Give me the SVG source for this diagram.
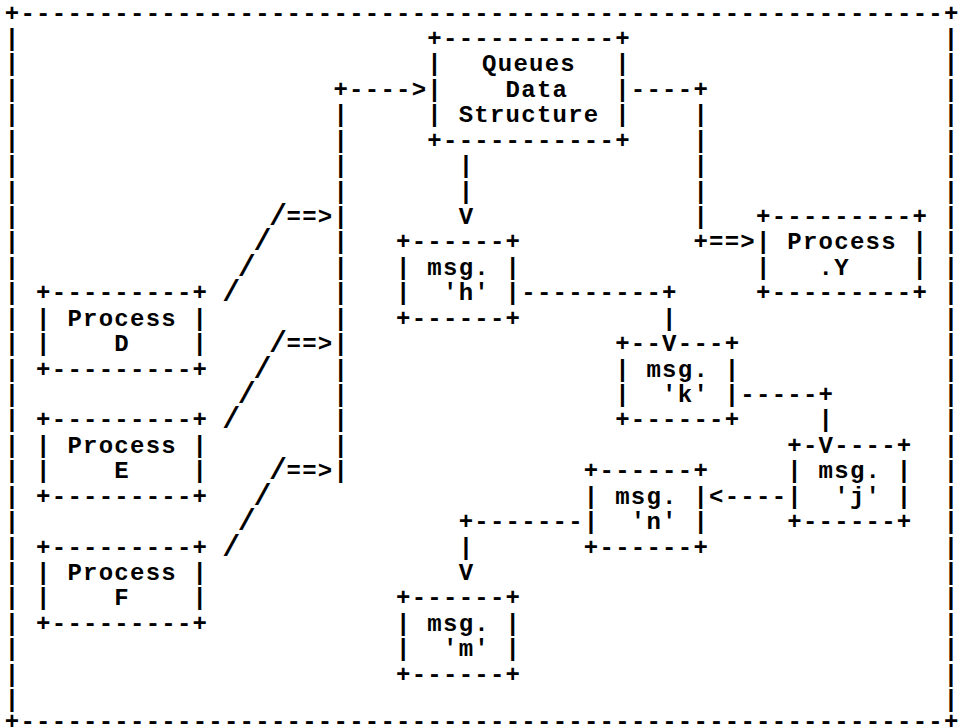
<svg xmlns="http://www.w3.org/2000/svg" width="958" height="728" viewBox="0 0 958 728" xml:space="preserve">
<style>
text { font-family: "Liberation Mono", "DejaVu Sans Mono", monospace; font-size: 24px; font-weight: bold; letter-spacing: 1.25px; fill: #000; white-space: pre; }
text.sl { font-size: 30px; letter-spacing: 0; }
</style>
<rect x="0" y="0" width="958" height="728" fill="#fff"/>
<g id="frame">
<text x="4.8" y="20.5">+-----------------------------------------------------------+</text>
<text x="4.8" y="729">+-----------------------------------------------------------+</text>
<text><tspan x="4.8" y="45.93">|</tspan><tspan x="4.8" y="71.36">|</tspan><tspan x="4.8" y="96.79">|</tspan><tspan x="4.8" y="122.22">|</tspan><tspan x="4.8" y="147.65">|</tspan><tspan x="4.8" y="173.08">|</tspan><tspan x="4.8" y="198.51">|</tspan><tspan x="4.8" y="223.94">|</tspan><tspan x="4.8" y="249.37">|</tspan><tspan x="4.8" y="274.8">|</tspan><tspan x="4.8" y="300.23">|</tspan><tspan x="4.8" y="325.66">|</tspan><tspan x="4.8" y="351.09">|</tspan><tspan x="4.8" y="376.52">|</tspan><tspan x="4.8" y="401.95">|</tspan><tspan x="4.8" y="427.38">|</tspan><tspan x="4.8" y="452.81">|</tspan><tspan x="4.8" y="478.24">|</tspan><tspan x="4.8" y="503.67">|</tspan><tspan x="4.8" y="529.1">|</tspan><tspan x="4.8" y="554.53">|</tspan><tspan x="4.8" y="579.96">|</tspan><tspan x="4.8" y="605.39">|</tspan><tspan x="4.8" y="630.82">|</tspan><tspan x="4.8" y="656.25">|</tspan><tspan x="4.8" y="681.68">|</tspan><tspan x="4.8" y="707.11">|</tspan></text>
<text><tspan x="943.8" y="45.93">|</tspan><tspan x="943.8" y="71.36">|</tspan><tspan x="943.8" y="96.79">|</tspan><tspan x="943.8" y="122.22">|</tspan><tspan x="943.8" y="147.65">|</tspan><tspan x="943.8" y="173.08">|</tspan><tspan x="943.8" y="198.51">|</tspan><tspan x="943.8" y="223.94">|</tspan><tspan x="943.8" y="249.37">|</tspan><tspan x="943.8" y="274.8">|</tspan><tspan x="943.8" y="300.23">|</tspan><tspan x="943.8" y="325.66">|</tspan><tspan x="943.8" y="351.09">|</tspan><tspan x="943.8" y="376.52">|</tspan><tspan x="943.8" y="401.95">|</tspan><tspan x="943.8" y="427.38">|</tspan><tspan x="943.8" y="452.81">|</tspan><tspan x="943.8" y="478.24">|</tspan><tspan x="943.8" y="503.67">|</tspan><tspan x="943.8" y="529.1">|</tspan><tspan x="943.8" y="554.53">|</tspan><tspan x="943.8" y="579.96">|</tspan><tspan x="943.8" y="605.39">|</tspan><tspan x="943.8" y="630.82">|</tspan><tspan x="943.8" y="656.25">|</tspan><tspan x="943.8" y="681.68">|</tspan><tspan x="943.8" y="707.11">|</tspan></text>
</g>
<g id="queues">
<text x="427.35" y="45.93">+-----------+</text>
<text x="427.35" y="71.36">|</text><text x="482.1" y="71.36">Queues</text><text x="615.15" y="71.36">|</text>
<text x="427.35" y="96.79">|    Data   |</text>
<text x="427.35" y="122.22">| Structure |</text>
<text x="427.35" y="147.65">+-----------+</text>
</g>
<g id="process-d">
<text x="36.1" y="300.23">+---------+</text>
<text x="36.1" y="325.66">| Process |</text>
<text x="36.1" y="351.09">|    D    |</text>
<text x="36.1" y="376.52">+---------+</text>
</g>
<g id="process-e">
<text x="36.1" y="427.38">+---------+</text>
<text x="36.1" y="452.81">| Process |</text>
<text x="36.1" y="478.24">|    E    |</text>
<text x="36.1" y="503.67">+---------+</text>
</g>
<g id="process-f">
<text x="36.1" y="554.53">+---------+</text>
<text x="36.1" y="579.96">| Process |</text>
<text x="36.1" y="605.39">|    F    |</text>
<text x="36.1" y="630.82">+---------+</text>
</g>
<g id="process-y">
<text x="756" y="223.94">+---------+</text>
<text x="756" y="249.37">| Process |</text>
<text x="756" y="274.8">|   .Y    |</text>
<text x="756" y="300.23">+---------+</text>
</g>
<g id="msg-h">
<text x="396.05" y="249.37">+------+</text>
<text x="396.05" y="274.8">| msg. |</text>
<text x="396.05" y="300.23">|  'h' |</text>
<text x="396.05" y="325.66">+------+</text>
</g>
<g id="msg-k">
<text x="615.15" y="351.09">+--</text><text x="677.75" y="351.09">---+</text>
<text x="615.15" y="376.52">| msg. |</text>
<text x="615.15" y="401.95">|  'k' |</text>
<text x="615.15" y="427.38">+------+</text>
</g>
<g id="msg-j">
<text x="787.3" y="452.81">+-</text><text x="834.25" y="452.81">----+</text>
<text x="787.3" y="478.24">| msg. |</text>
<text x="787.3" y="503.67">|  'j' |</text>
<text x="787.3" y="529.1">+------+</text>
</g>
<g id="msg-n">
<text x="583.85" y="478.24">+------+</text>
<text x="583.85" y="503.67">| msg. |</text>
<text x="583.85" y="529.1">|  'n' |</text>
<text x="583.85" y="554.53">+------+</text>
</g>
<g id="msg-m">
<text x="396.05" y="605.39">+------+</text>
<text x="396.05" y="630.82">| msg. |</text>
<text x="396.05" y="656.25">|  'm' |</text>
<text x="396.05" y="681.68">+------+</text>
</g>
<g id="connectors">
<text x="333.45" y="96.79">+----&gt;</text>
<text><tspan x="333.45" y="122.22">|</tspan><tspan x="333.45" y="147.65">|</tspan><tspan x="333.45" y="173.08">|</tspan><tspan x="333.45" y="198.51">|</tspan><tspan x="333.45" y="223.94">|</tspan><tspan x="333.45" y="249.37">|</tspan><tspan x="333.45" y="274.8">|</tspan><tspan x="333.45" y="300.23">|</tspan><tspan x="333.45" y="325.66">|</tspan><tspan x="333.45" y="351.09">|</tspan><tspan x="333.45" y="376.52">|</tspan><tspan x="333.45" y="401.95">|</tspan><tspan x="333.45" y="427.38">|</tspan><tspan x="333.45" y="452.81">|</tspan><tspan x="333.45" y="478.24">|</tspan></text>
<text x="286.5" y="223.94">==&gt;</text>
<text x="286.5" y="351.09">==&gt;</text>
<text x="286.5" y="478.24">==&gt;</text>
<text class="sl"><tspan x="269.1" y="225">/</tspan><tspan x="253.45" y="250.43">/</tspan><tspan x="237.8" y="275.86">/</tspan><tspan x="222.15" y="301.29">/</tspan></text>
<text class="sl"><tspan x="269.1" y="352.15">/</tspan><tspan x="253.45" y="377.58">/</tspan><tspan x="237.8" y="403.01">/</tspan><tspan x="222.15" y="428.44">/</tspan></text>
<text class="sl"><tspan x="269.1" y="479.3">/</tspan><tspan x="253.45" y="504.73">/</tspan><tspan x="237.8" y="530.16">/</tspan><tspan x="222.15" y="555.59">/</tspan></text>
<text x="630.8" y="96.79">----+</text>
<text><tspan x="693.4" y="122.22">|</tspan><tspan x="693.4" y="147.65">|</tspan><tspan x="693.4" y="173.08">|</tspan><tspan x="693.4" y="198.51">|</tspan><tspan x="693.4" y="223.94">|</tspan></text>
<text x="693.4" y="249.37">+==&gt;</text>
<text><tspan x="458.65" y="173.08">|</tspan><tspan x="458.65" y="198.51">|</tspan><tspan x="458.65" y="223.94">V</tspan></text>
<text x="521.25" y="300.23">---------+</text>
<text><tspan x="662.1" y="325.66">|</tspan><tspan x="662.1" y="351.09">V</tspan></text>
<text x="740.35" y="401.95">-----+</text>
<text><tspan x="818.6" y="427.38">|</tspan><tspan x="818.6" y="452.81">V</tspan></text>
<text x="709.05" y="503.67">&lt;----</text>
<text x="458.65" y="529.1">+-------</text>
<text><tspan x="458.65" y="554.53">|</tspan><tspan x="458.65" y="579.96">V</tspan></text>
</g>
</svg>
